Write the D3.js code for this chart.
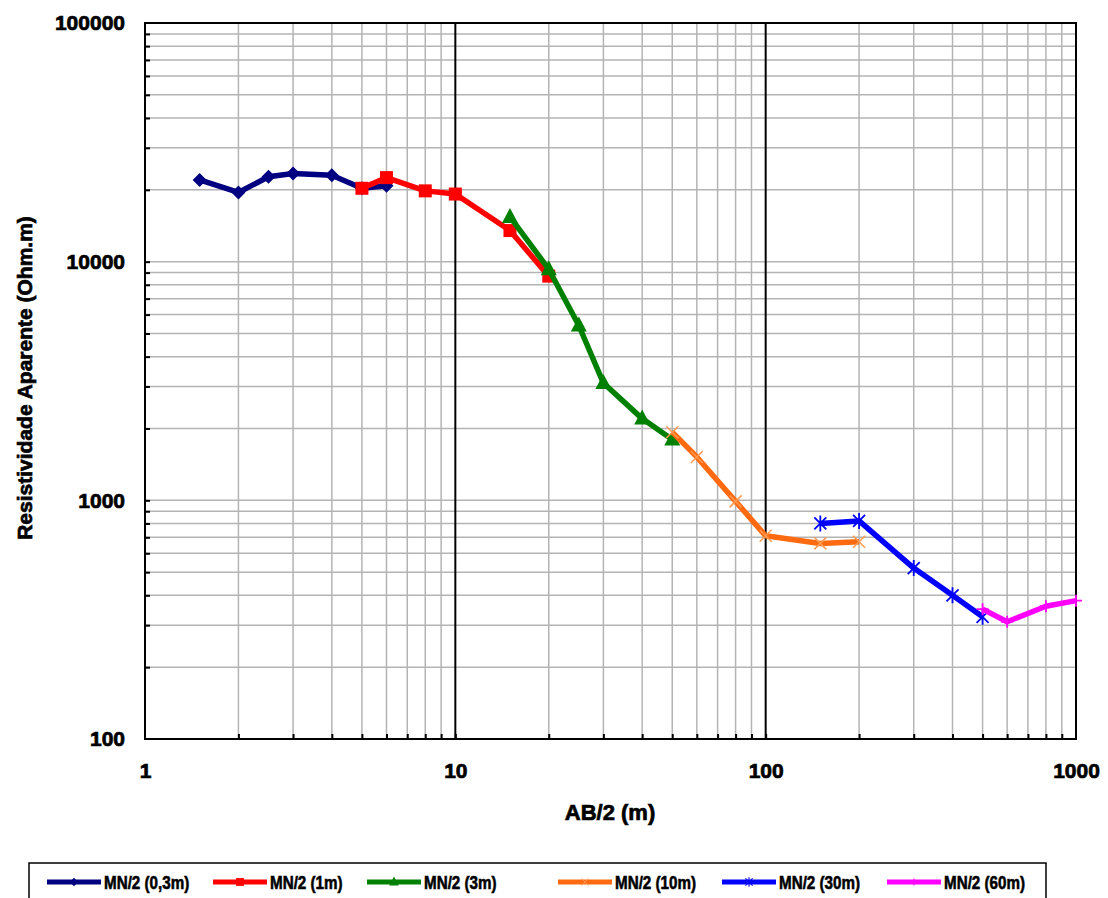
<!DOCTYPE html>
<html>
<head>
<meta charset="utf-8">
<script src="https://cdn.jsdelivr.net/npm/d3@7"></script>
<style>
  body { margin: 0; background: #fff; }
  svg { display: block; font-family: "Liberation Sans", Arial, sans-serif; font-weight: bold; }
</style>
</head>
<body>
<svg width="1108" height="898"></svg>
<script>
// AB/2 (m) and apparent resistivity (Ohm.m) per MN/2 spacing
const ab2_03 = [1.5, 2, 2.5, 3, 4, 5, 6];
const rho_03 = [22000, 19500, 22700, 23400, 23000, 20300, 20800];
const ab2_1 = [5, 6, 8, 10, 15, 20];
const rho_1 = [20300, 22500, 19800, 19200, 13500, 8700];
const ab2_3 = [15, 20, 25, 30, 40, 50];
const rho_3 = [15400, 9300, 5400, 3100, 2200, 1800];
const ab2_10 = [50, 60, 80, 100, 150, 200];
const rho_10 = [1930, 1520, 990, 710, 660, 670];
const ab2_30 = [150, 200, 300, 400, 500];
const rho_30 = [800, 820, 520, 400, 325];
const ab2_60 = [500, 600, 800, 1000];
const rho_60 = [350, 310, 360, 380];

const seriesNames = ["MN/2 (0,3m)", "MN/2 (1m)", "MN/2 (3m)", "MN/2 (10m)", "MN/2 (30m)", "MN/2 (60m)"];
const seriesColors = ["#000080", "#ff0000", "#008000", "#ff6a10", "#0000ff", "#ff00ff"];
const seriesMarkers = ["diamond", "square", "triangle", "x", "asterisk", "plus"];
const xTicks = [1, 10, 100, 1000];
const yTicks = [100, 1000, 10000, 100000];

const series = [
  [ab2_03, rho_03], [ab2_1, rho_1], [ab2_3, rho_3],
  [ab2_10, rho_10], [ab2_30, rho_30], [ab2_60, rho_60]
].map(([xs, ys], i) => ({
  name: seriesNames[i],
  color: seriesColors[i],
  marker: seriesMarkers[i],
  values: xs.map((x, j) => ({ x: x, y: ys[j] }))
}));

const svg = d3.select("svg");
const plot = { left: 145, right: 1076, top: 23, bottom: 739 };

const x = d3.scaleLog().domain([1, 1000]).range([plot.left, plot.right]);
const y = d3.scaleLog().domain([100, 100000]).range([plot.bottom, plot.top]);

// minor values 1..9 in every decade
const minorX = d3.range(0, 3).flatMap(e => d3.range(1, 10).map(m => m * Math.pow(10, e))).filter(v => v > 1);
const minorY = d3.range(2, 5).flatMap(e => d3.range(1, 10).map(m => m * Math.pow(10, e))).filter(v => v > 100);

// horizontal grid
svg.append("g")
  .selectAll("line")
  .data(minorY)
  .join("line")
  .attr("x1", plot.left).attr("x2", plot.right)
  .attr("y1", d => y(d)).attr("y2", d => y(d))
  .attr("stroke", "#b4b4b4")
  .attr("stroke-width", 1.5);

// vertical grid, decades in black
svg.append("g")
  .selectAll("line")
  .data(minorX)
  .join("line")
  .attr("x1", d => x(d)).attr("x2", d => x(d))
  .attr("y1", plot.top).attr("y2", plot.bottom)
  .attr("stroke", d => (d === 10 || d === 100) ? "#000" : "#b4b4b4")
  .attr("stroke-width", d => (d === 10 || d === 100) ? 2 : 1.5);

// plot frame
svg.append("rect")
  .attr("x", plot.left).attr("y", plot.top)
  .attr("width", plot.right - plot.left).attr("height", plot.bottom - plot.top)
  .attr("fill", "none").attr("stroke", "#000").attr("stroke-width", 2);

// small inside ticks
svg.append("g")
  .attr("transform", `translate(0,${plot.bottom})`)
  .call(d3.axisBottom(x).tickValues(minorX).tickSize(-5).tickFormat(""))
  .call(g => g.select(".domain").remove())
  .selectAll("line").attr("stroke-width", 2);
svg.append("g")
  .attr("transform", `translate(${plot.left},0)`)
  .call(d3.axisLeft(y).tickValues(minorY).tickSize(-5).tickFormat(""))
  .call(g => g.select(".domain").remove())
  .selectAll("line").attr("stroke-width", 2);

// tick labels
svg.append("g")
  .attr("transform", `translate(0,${plot.bottom})`)
  .call(d3.axisBottom(x).tickValues(xTicks).tickSize(0).tickPadding(24).tickFormat(d3.format("d")))
  .call(g => g.select(".domain").remove())
  .selectAll("text")
  .attr("fill", "#000")
  .style("font-size", "21px").style("font-weight", "bold")
  .attr("stroke", "#000").attr("stroke-width", 0.7);

svg.append("g")
  .attr("transform", `translate(${plot.left},0)`)
  .call(d3.axisLeft(y).tickValues(yTicks).tickSize(0).tickPadding(20).tickFormat(d3.format("d")))
  .call(g => g.select(".domain").remove())
  .selectAll("text")
  .attr("fill", "#000")
  .style("font-size", "21px").style("font-weight", "bold")
  .attr("stroke", "#000").attr("stroke-width", 0.7);

// axis titles
svg.append("text")
  .attr("x", 610).attr("y", 820)
  .attr("text-anchor", "middle")
  .style("font-size", "22px")
  .attr("stroke", "#000").attr("stroke-width", 0.7)
  .text("AB/2 (m)");

svg.append("text")
  .attr("transform", "translate(32,378) rotate(-90)")
  .attr("text-anchor", "middle")
  .style("font-size", "21px")
  .attr("stroke", "#000").attr("stroke-width", 0.7)
  .text("Resistividade Aparente (Ohm.m)");

// marker drawing
function drawMarker(g, type, color) {
  if (type === "diamond") {
    g.append("path").attr("d", "M0,-7L7,0L0,7L-7,0Z").attr("fill", color);
  } else if (type === "square") {
    g.append("rect").attr("x", -6.5).attr("y", -6.5).attr("width", 13).attr("height", 13).attr("fill", color);
  } else if (type === "triangle") {
    g.append("path").attr("d", "M0,-9L8,6L-8,6Z").attr("fill", color);
  } else if (type === "x") {
    g.append("path").attr("d", "M-6,-6L6,6M-6,6L6,-6").attr("stroke", "#ff9a50").attr("stroke-width", 1.5);
  } else if (type === "asterisk") {
    g.append("path").attr("d", "M-6,-6L6,6M-6,6L6,-6M0,-8L0,8").attr("stroke", color).attr("stroke-width", 1.8);
  } else if (type === "plus") {
    g.append("path").attr("d", "M0,-6L0,6M-6,0L6,0").attr("stroke", color).attr("stroke-width", 1.8);
  }
}

const line = d3.line().x(d => x(d.x)).y(d => y(d.y));

series.forEach(s => {
  const g = svg.append("g");
  g.append("path")
    .datum(s.values)
    .attr("d", line)
    .attr("fill", "none")
    .attr("stroke", s.color)
    .attr("stroke-width", 5.5)
    .attr("stroke-linejoin", "round");
  g.selectAll(".mk")
    .data(s.values)
    .join("g")
    .attr("class", "mk")
    .attr("transform", d => `translate(${x(d.x)},${y(d.y)})`)
    .each(function () { drawMarker(d3.select(this), s.marker, s.color); });
});

// legend
svg.append("rect")
  .attr("x", 29).attr("y", 863)
  .attr("width", 1017).attr("height", 50)
  .attr("fill", "#fff").attr("stroke", "#000").attr("stroke-width", 1.5);

const legendX = [47, 213, 367, 558, 722, 887];
const legend = svg.selectAll(".legend")
  .data(series)
  .join("g")
  .attr("class", "legend")
  .attr("transform", (d, i) => `translate(${legendX[i]},882)`);

legend.append("line")
  .attr("x1", 0).attr("x2", 54)
  .attr("stroke", d => d.color)
  .attr("stroke-width", 5);

legend.append("g")
  .attr("transform", "translate(27,0) scale(0.6)")
  .each(function (d) { drawMarker(d3.select(this), d.marker, d.color); });

legend.append("text")
  .attr("x", 57)
  .attr("dy", "0.35em")
  .style("font-size", "19px")
  .attr("stroke", "#000").attr("stroke-width", 0.6)
  .text(d => d.name)
  .each(function () {
    const w = this.getComputedTextLength();
    d3.select(this).attr("textLength", w * 0.8).attr("lengthAdjust", "spacingAndGlyphs");
  });
</script>
</body>
</html>
